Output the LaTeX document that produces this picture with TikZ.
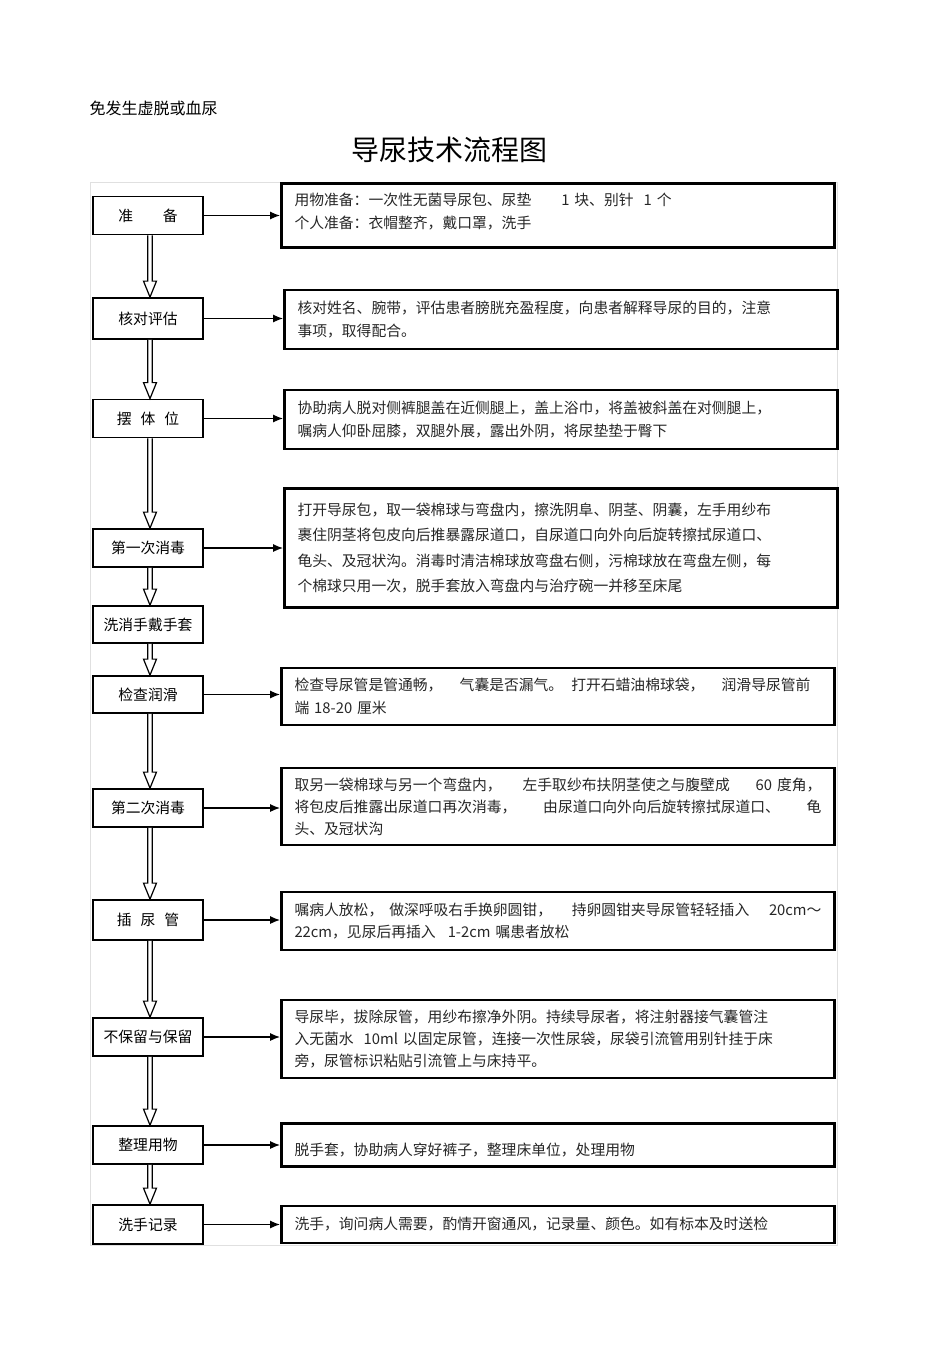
\documentclass[tikz,border=0pt]{standalone}
\usepackage{fontspec}
\setmainfont{Noto Sans CJK SC}
\usepackage{tikz}
\usetikzlibrary{arrows.meta, calc}
\tikzstyle{stage} = [rectangle, draw=black, line width=1.8pt, minimum width=110pt, minimum height=38pt, text centered, font=\fontsize{14.8}{18}\selectfont]
\tikzstyle{detail} = [rectangle, draw=black, line width=2.6pt, text width=527pt, inner xsep=13pt, align=left, text=black!85, font=\fontsize{14.8}{23}\selectfont]
\tikzstyle{arrow} = [line width=1.6pt, -{Latex[length=10pt,width=8pt]}]
\tikzstyle{hollow} = [line width=1.2pt, draw=black, fill=white]
\newcommand{\spreadline}[2][527pt]{\makebox[#1][l]{#2}}
\newcommand{\flowdown}[2]{\draw[hollow] let \p1=(#1.south), \p2=(#2.north) in
  (\x1-0.2,\y1) -- (\x1-0.2,\y2+16) -- (\x1-4.5,\y2+16) -- (\x1+2,\y2) -- (\x1+8.5,\y2+16)
  -- (\x1+4.2,\y2+16) -- (\x1+4.2,\y1);}

\begin{document}
\begin{tikzpicture}[x=1pt, y=-1pt, node distance=100pt]
\useasboundingbox (0,0) rectangle (950,1345);
\draw[black!12, line width=0.8pt] (90,182) rectangle (837,1245);

\node (note) [anchor=west, font=\fontsize{16}{18}\selectfont] at (86,108) {免发生虚脱或血尿};
\node (title) [font=\fontsize{28}{32}\selectfont] at (449,150) {导尿技术流程图};

\node (prep) [stage] at (148,215.5) {准\hspace{2em}备};
\node (verify) [stage, below of=prep, yshift=-3pt, minimum height=41pt] {核对评估};
\node (posture) [stage, below of=verify] {摆\hspace{0.6em}体\hspace{0.6em}位};
\node (disinfa) [stage, below of=posture, yshift=-29.5pt] {第一次消毒};
\node (gloves) [stage, below of=disinfa, yshift=23.5pt, minimum height=37pt] {洗消手戴手套};
\node (lube) [stage, below of=gloves, yshift=30pt, minimum height=37pt] {检查润滑};
\node (disinfb) [stage, below of=lube, yshift=-13.5pt] {第二次消毒};
\node (insert) [stage, below of=disinfb, yshift=-12pt, minimum height=40pt] {插\hspace{0.6em}尿\hspace{0.6em}管};
\node (keep) [stage, below of=insert, yshift=-17pt] {不保留与保留};
\node (tidy) [stage, below of=keep, yshift=-8pt] {整理用物};
\node (record) [stage, below of=tidy, yshift=20.5pt, minimum height=39pt] {洗手记录};

\node (prepinfo) [detail, right of=prep, xshift=310pt, minimum height=64pt]
   {\raisebox{3pt}[11pt][3pt]{用物准备：一次性无菌导尿包、尿垫\hspace{30pt}1 块、别针\hspace{10pt}1 个}\\
    \raisebox{3pt}[11pt][3pt]{个人准备：衣帽整齐，戴口罩，洗手}};
\node (verifyinfo) [detail, right of=verify, xshift=313pt, yshift=-1pt, minimum height=59pt]
   {核对姓名、腕带，评估患者膀胱充盈程度，向患者解释导尿的目的，注意\\
    事项，取得配合。};
\node (postureinfo) [detail, right of=posture, xshift=313pt, yshift=-1pt, minimum height=59pt]
   {协助病人脱对侧裤腿盖在近侧腿上，盖上浴巾，将盖被斜盖在对侧腿上，\\
    嘱病人仰卧屈膝，双腿外展，露出外阴，将尿垫垫于臀下};
\node (disinfainfo) [detail, right of=disinfa, xshift=313pt, minimum height=119pt, font=\fontsize{14.8}{25.5}\selectfont]
   {打开导尿包，取一袋棉球与弯盘内，擦洗阴阜、阴茎、阴囊，左手用纱布\\
    裹住阴茎将包皮向后推暴露尿道口，自尿道口向外向后旋转擦拭尿道口、\\
    龟头、及冠状沟。消毒时清洁棉球放弯盘右侧，污棉球放在弯盘左侧，每\\
    个棉球只用一次，脱手套放入弯盘内与治疗碗一并移至床尾};
\node (lubeinfo) [detail, right of=lube, xshift=310pt, yshift=-2pt, minimum height=57pt]
   {\spreadline[516pt]{检查导尿管是管通畅，\hfill 气囊是否漏气。\hspace{8pt}打开石蜡油棉球袋，\hfill 润滑导尿管前}\\
    端 18-20 厘米};
\node (disinfbinfo) [detail, right of=disinfb, xshift=310pt, yshift=1.5pt, minimum height=77pt, font=\fontsize{14.8}{22}\selectfont]
   {\spreadline{取另一袋棉球与另一个弯盘内，\hspace{8pt}\hfill 左手取纱布扶阴茎使之与腹壁成\hfill\hfill 60 度角，}\\
    \spreadline{将包皮后推露出尿道口再次消毒，\hfill 由尿道口向外向后旋转擦拭尿道口、\hfill 龟}\\
    头、及冠状沟};
\node (insertinfo) [detail, right of=insert, xshift=310pt, yshift=-1pt, minimum height=58pt, font=\fontsize{14.8}{22}\selectfont]
   {\spreadline{嘱病人放松，\hspace{6pt}做深呼吸右手换卵圆钳，\hfill 持卵圆钳夹导尿管轻轻插入\hfill 20cm～}\\
    22cm，见尿后再插入\hspace{12pt}1-2cm 嘱患者放松};
\node (keepinfo) [detail, right of=keep, xshift=310pt, yshift=-2pt, minimum height=78pt, font=\fontsize{14.8}{22}\selectfont]
   {导尿毕，拔除尿管，用纱布擦净外阴。持续导尿者，将注射器接气囊管注\\
    入无菌水\hspace{10pt}10ml 以固定尿管，连接一次性尿袋，尿袋引流管用别针挂于床\\
    旁，尿管标识粘贴引流管上与床持平。};
\node (tidyinfo) [detail, right of=tidy, xshift=310pt, minimum height=43pt]
   {\raisebox{-6pt}[11pt][3pt]{脱手套，协助病人穿好裤子，整理床单位，处理用物}};
\node (recordinfo) [detail, right of=record, xshift=310pt, minimum height=37pt]
   {洗手，询问病人需要，酌情开窗通风，记录量、颜色。如有标本及时送检};

\flowdown{prep}{verify}
\flowdown{verify}{posture}
\flowdown{posture}{disinfa}
\flowdown{disinfa}{gloves}
\flowdown{gloves}{lube}
\flowdown{lube}{disinfb}
\flowdown{disinfb}{insert}
\flowdown{insert}{keep}
\flowdown{keep}{tidy}
\flowdown{tidy}{record}

\draw [arrow] (prep.east) -- (prep.east -| prepinfo.west);
\draw [arrow] (verify.east) -- (verify.east -| verifyinfo.west);
\draw [arrow] (posture.east) -- (posture.east -| postureinfo.west);
\draw [arrow] (disinfa.east) -- (disinfa.east -| disinfainfo.west);
\draw [arrow] (lube.east) -- (lube.east -| lubeinfo.west);
\draw [arrow] (disinfb.east) -- (disinfb.east -| disinfbinfo.west);
\draw [arrow] (insert.east) -- (insert.east -| insertinfo.west);
\draw [arrow] (keep.east) -- (keep.east -| keepinfo.west);
\draw [arrow] (tidy.east) -- (tidy.east -| tidyinfo.west);
\draw [arrow] (record.east) -- (record.east -| recordinfo.west);

\end{tikzpicture}
\end{document}
